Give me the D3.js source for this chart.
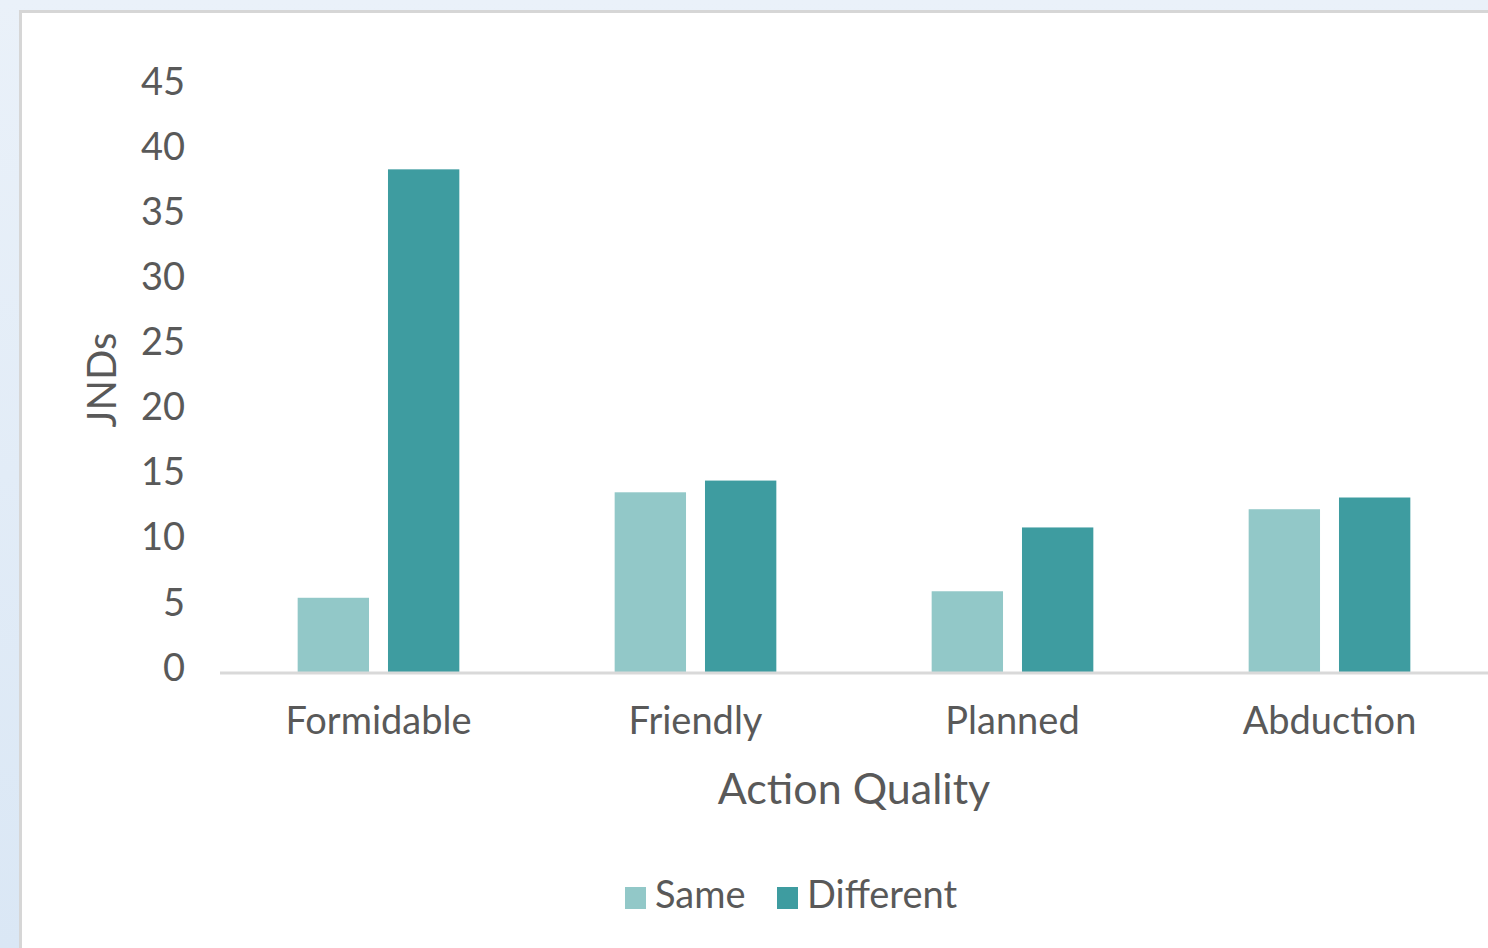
<!DOCTYPE html>
<html><head><meta charset="utf-8">
<script src="https://cdn.jsdelivr.net/npm/d3@7"></script>
<style>html,body{margin:0;padding:0;background:#e4edf8;}svg{display:block;}</style>
</head><body>
<svg id="c" width="1488" height="948"></svg>
<script>
const categories = ["Formidable", "Friendly", "Planned", "Abduction"];
const seriesNames = ["Same", "Different"];
const sameValues = [5.7, 13.8, 6.2, 12.5];
const differentValues = [38.6, 14.7, 11.1, 13.4];
const yTicks = [0, 5, 10, 15, 20, 25, 30, 35, 40, 45];
const colors = ["#92c8c8", "#3e9ca0"];

const svg = d3.select("#c");
const defs = svg.append("defs");
const g1 = defs.append("linearGradient").attr("id","bg").attr("x1",0).attr("y1",0).attr("x2",0).attr("y2",1);
g1.append("stop").attr("offset",0).attr("stop-color","#eaf1f9");
g1.append("stop").attr("offset",1).attr("stop-color","#dae7f5");
svg.append("rect").attr("width",1488).attr("height",948).attr("fill","url(#bg)");
svg.append("rect").attr("x",19).attr("y",10).attr("width",1469).attr("height",938).attr("fill","#d6d6d6");
svg.append("rect").attr("x",22).attr("y",13).attr("width",1466).attr("height",935).attr("fill","#ffffff");

const font = "'Lato', 'Open Sans', sans-serif";
const textColor = "#595959";

const x0 = d3.scaleBand().domain(categories).range([220, 1488]).paddingInner(0).paddingOuter(0);
const x1 = d3.scaleBand().domain(seriesNames).range([0, x0.bandwidth()*0.51]).paddingInner(0.21);
const groupOffset = (x0.bandwidth() - x0.bandwidth()*0.51)/2;
const y = d3.scaleLinear().domain([0, 45]).range([672, 86]);

const data = categories.map((c,i)=>({cat:c, vals:[{s:"Same", v:sameValues[i]},{s:"Different", v:differentValues[i]}]}));

const groups = svg.append("g").selectAll("g").data(data).join("g")
  .attr("transform", d=>`translate(${x0(d.cat)+groupOffset},0)`);
groups.selectAll("rect").data(d=>d.vals).join("rect")
  .attr("x", d=>x1(d.s)).attr("width", x1.bandwidth())
  .attr("y", d=>y(d.v)).attr("height", d=>y(0)-y(d.v))
  .attr("fill", (d,i)=>colors[i]);

// baseline
svg.append("line").attr("x1",220).attr("x2",1488).attr("y1",y(0)+1).attr("y2",y(0)+1)
  .attr("stroke","#d9d9d9").attr("stroke-width",3);

// y axis
const yAxis = d3.axisLeft(y).tickValues(yTicks).tickSize(0).tickPadding(0);
const ya = svg.append("g").attr("transform","translate(185,-4)").call(yAxis);
ya.select(".domain").remove();
ya.selectAll("text").attr("font-family",font).attr("font-size",38).attr("fill",textColor);

// x axis labels
const xAxis = d3.axisBottom(x0).tickSize(0).tickPadding(0);
const xa = svg.append("g").attr("transform","translate(0,705)").call(xAxis);
xa.select(".domain").remove();
xa.selectAll("text").attr("font-family",font).attr("font-size",38).attr("fill",textColor).attr("dy","0.75em");

// axis titles
svg.append("text").attr("x",854).attr("y",804).attr("text-anchor","middle")
  .attr("font-family",font).attr("font-size",43).attr("fill",textColor).text("Action Quality");
svg.append("text").attr("transform","translate(116,380) rotate(-90)").attr("text-anchor","middle")
  .attr("font-family",font).attr("font-size",40).attr("fill",textColor).text("JNDs");

// legend
const legendX = [625, 777];
const lg = svg.append("g").selectAll("g").data(seriesNames).join("g")
  .attr("transform",(d,i)=>`translate(${legendX[i]},887)`);
lg.append("rect").attr("width",21).attr("height",22).attr("fill",(d,i)=>colors[i]);
lg.append("text").attr("x",30).attr("y",21).attr("font-family",font).attr("font-size",38)
  .attr("fill",textColor).text(d=>d);
</script>
</body></html>
